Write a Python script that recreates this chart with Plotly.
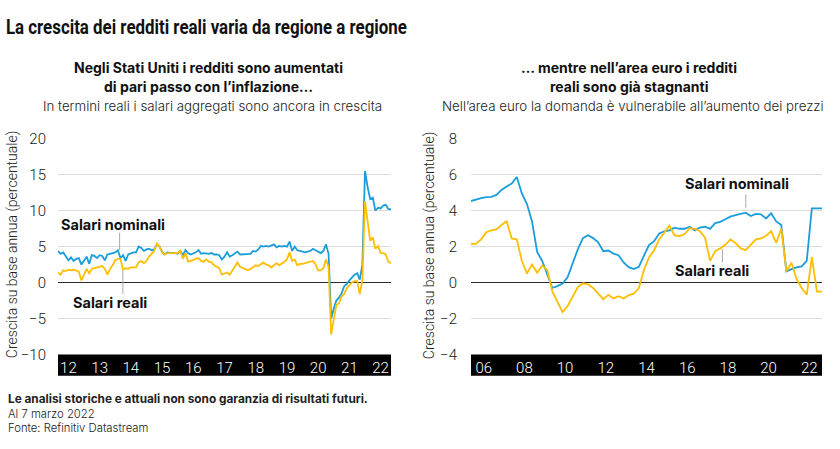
import plotly.graph_objects as go

# ---------------- DATA ----------------
us_start = 2011 + 8 / 12          # first monthly observation (decimal year)
us_nominal = [4.4, 4.0, 4.2, 3.7, 3.1, 3.5, 3.0, 3.3, 3.4, 2.5, 3.1, 3.6, 2.6, 3.8, 3.7, 3.4,
              3.8, 3.7, 3.1, 3.9, 4.0, 4.1, 4.2, 4.5, 3.4, 3.8, 3.0, 3.9, 4.1, 4.2, 4.2, 5.0,
              4.8, 4.4, 4.6, 4.7, 4.5, 4.6, 5.3, 5.0, 4.3, 3.9, 4.2, 4.1, 4.1, 4.1, 4.0, 4.4,
              3.8, 4.5, 4.1, 3.9, 4.0, 4.2, 4.5, 4.0, 4.1, 4.0, 4.0, 4.1, 3.9, 3.9, 3.8, 3.2,
              3.6, 4.2, 3.6, 3.8, 4.0, 4.3, 3.9, 3.9, 3.9, 4.0, 4.0, 4.4, 4.3, 4.6, 5.1, 5.0,
              5.1, 5.0, 5.1, 5.3, 4.9, 5.1, 5.0, 5.1, 5.0, 5.7, 4.4, 5.0, 4.5, 4.4, 4.2, 4.2,
              4.3, 4.4, 4.7, 4.5, 4.2, 4.1, 4.4, 5.3, 4.0, -5.0, -3.6, -2.5, -2.1, -1.5, -0.5, -0.2,
              0.3, 0.7, 1.1, 1.3, 0.4, 2.5, 15.5, 13.3, 11.6, 11.8, 10.0, 10.4, 10.3, 10.7, 10.8, 10.2,
              10.2]
us_real = [1.4, 1.1, 1.7, 1.6, 1.8, 1.7, 1.8, 1.6, 1.5, 0.3, 1.0, 1.9, 1.3, 1.9, 2.0, 2.1,
           2.1, 2.3, 1.9, 1.1, 1.9, 2.4, 3.1, 3.3, 3.3, 1.8, 2.0, 1.9, 2.1, 2.1, 2.1, 2.8,
           3.0, 2.7, 3.0, 3.6, 4.0, 4.4, 5.4, 5.0, 4.2, 3.9, 4.1, 4.1, 4.0, 4.0, 4.1, 4.4,
           3.3, 4.1, 2.9, 3.0, 3.2, 3.3, 3.4, 3.0, 2.9, 3.2, 2.9, 2.8, 2.4, 2.2, 2.0, 1.1,
           1.3, 1.4, 1.1, 1.7, 2.2, 2.8, 2.2, 2.0, 1.8, 1.7, 1.9, 2.1, 2.4, 2.3, 2.5, 2.8,
           2.5, 2.4, 2.1, 2.4, 2.7, 2.4, 2.6, 2.9, 3.2, 4.2, 3.0, 3.2, 2.4, 2.6, 2.6, 2.7,
           2.7, 2.8, 3.0, 2.5, 1.7, 1.7, 2.0, 3.2, 2.2, -7.2, -4.9, -3.1, -2.9, -1.9, -1.6, -0.8,
           -0.4, 0.0, 0.2, 0.2, -1.6, 0.3, 11.3, 8.4, 5.8, 6.3, 4.7, 5.1, 4.1, 4.1, 3.9, 2.9,
           2.7]

ea_start = 2005.375               # first quarterly observation (decimal year)
ea_nominal = [4.53, 4.63, 4.69, 4.75, 4.76, 4.87, 5.15, 5.34, 5.5, 5.87, 4.95, 4.36, 3.4, 1.7,
              1.2, 0.45, -0.3, -0.2, -0.06, 0.3, 1.05, 1.85, 2.47, 2.63, 2.47, 2.24, 1.74, 1.78,
              1.61, 1.52, 1.12, 0.86, 0.75, 0.87, 1.5, 2.08, 2.3, 2.73, 2.85, 2.9, 3.05, 2.99,
              2.99, 3.1, 2.9, 3.06, 3.1, 2.98, 3.3, 3.37, 3.52, 3.66, 3.75, 3.8, 3.88, 3.7,
              3.82, 3.79, 3.56, 3.85, 3.4, 3.2, 0.62, 0.75, 0.85, 0.9, 1.2, 4.12, 4.12, 4.12]
ea_real = [2.13, 2.16, 2.4, 2.8, 2.9, 2.95, 3.2, 3.41, 2.45, 2.4, 1.2, 0.5, 1.0, 0.55,
           0.95, 0.7, -0.5, -1.1, -1.64, -1.3, -0.8, -0.25, -0.04, -0.1, -0.3, -0.64, -0.92, -0.68,
           -0.88, -0.76, -0.88, -0.7, -0.62, -0.3, 0.7, 1.4, 1.8, 2.4, 2.78, 3.16, 2.62, 2.58,
           2.7, 3.02, 2.99, 2.85, 2.5, 1.21, 1.75, 1.9, 2.1, 2.4, 2.2, 1.9, 1.8, 2.1,
           2.4, 2.45, 2.6, 2.85, 2.2, 3.0, 0.62, 1.1, 0.2, -0.3, -0.68, 1.42, -0.5, -0.5]

us_tickvals = list(range(2012, 2023))
us_ticktext = ["12", "13", "14", "15", "16", "17", "18", "19", "20", "21", "22"]
ea_tickvals = list(range(2006, 2023, 2))
ea_ticktext = ["06", "08", "10", "12", "14", "16", "18", "20", "22"]
us_yticks = [-10, -5, 0, 5, 10, 15, 20]
ea_yticks = [-4, -2, 0, 2, 4, 6, 8]

us_x = [us_start + i / 12 for i in range(len(us_nominal))]
ea_x = [ea_start + 0.25 * i for i in range(len(ea_nominal))]

# ---------------- STYLE ----------------
W, H = 840, 449
BLUE = "#1a9ddb"
YELLOW = "#ffbe00"
LIGHT = "Roboto"
SANS = "Inter"
TXT = "#1a1a1a"


def fx(p):
    return p / W


def fy(p):
    return 1 - p / H


fig = go.Figure()
fig.add_trace(go.Scatter(x=us_x, y=us_nominal, mode="lines", line=dict(color=BLUE, width=1.8),
                         xaxis="x", yaxis="y", hoverinfo="skip"))
fig.add_trace(go.Scatter(x=us_x, y=us_real, mode="lines", line=dict(color=YELLOW, width=1.8),
                         xaxis="x", yaxis="y", hoverinfo="skip"))
fig.add_trace(go.Scatter(x=ea_x, y=ea_nominal, mode="lines", line=dict(color=BLUE, width=1.8),
                         xaxis="x2", yaxis="y2", hoverinfo="skip"))
fig.add_trace(go.Scatter(x=ea_x, y=ea_real, mode="lines", line=dict(color=YELLOW, width=1.8),
                         xaxis="x2", yaxis="y2", hoverinfo="skip"))

xcommon = dict(showgrid=False, zeroline=False, showline=False, ticks="",
               tickfont=dict(family=LIGHT, size=15, color="white", weight=300),
               ticklabelstandoff=2)
ycommon = dict(showgrid=True, gridcolor="#dcdcdc", gridwidth=1.2, zeroline=True,
               zerolinecolor="#2b2b2b", zerolinewidth=1.2, showline=False, ticks="",
               tickfont=dict(family=LIGHT, size=15, color=TXT, weight=300))

fig.update_layout(
    width=W, height=H, margin=dict(l=0, r=0, t=0, b=0),
    paper_bgcolor="white", plot_bgcolor="white", showlegend=False,
    xaxis=dict(domain=[fx(58), fx(391)], range=[us_x[0], us_x[-1]], anchor="y",
               tickmode="array", tickvals=us_tickvals, ticktext=us_ticktext, **xcommon),
    yaxis=dict(domain=[fy(360), fy(135)], range=[-10, 20], anchor="x", ticklabelstandoff=11,
               tickmode="array", tickvals=us_yticks, **ycommon),
    xaxis2=dict(domain=[fx(471), fx(822)], range=[ea_x[0], ea_x[-1]], anchor="y2",
                tickmode="array", tickvals=ea_tickvals, ticktext=ea_ticktext, **xcommon),
    yaxis2=dict(domain=[fy(360), fy(135)], range=[-4, 8], anchor="x2", ticklabelstandoff=13,
                tickmode="array", tickvals=ea_yticks, **ycommon),
)

# black bands behind the x tick labels
for xr in ("x domain", "x2 domain"):
    fig.add_shape(type="rect", xref=xr, yref="paper", x0=0, x1=1, y0=fy(382), y1=fy(360),
                  fillcolor="black", line=dict(width=0), layer="below")

TITLE = "La crescita dei redditi reali varia da regione a regione"
ann = []
# main title (condensed to the reference width by the post script below)
ann.append(dict(text=TITLE, x=fx(206.5), y=fy(19), xanchor="center", yanchor="middle",
                font=dict(family="Roboto", size=21, color="#111", weight=700)))
# panel titles
for cx, l1, l2, sub in [
    (208, "Negli Stati Uniti i redditi sono aumentati", "di pari passo con l’inflazione…",
     "In termini reali i salari aggregati sono ancora in crescita"),
    (629, "… mentre nell’area euro i redditi", "reali sono già stagnanti",
     "Nell’area euro la domanda è vulnerabile all’aumento dei prezzi"),
]:
    ann.append(dict(text=l1, x=fx(cx), y=fy(61), xanchor="center", yanchor="middle",
                    font=dict(family=SANS, size=14, color="#111", weight=700)))
    ann.append(dict(text=l2, x=fx(cx), y=fy(81), xanchor="center", yanchor="middle",
                    font=dict(family=SANS, size=14, color="#111", weight=700)))
    ann.append(dict(text=sub, x=fx(cx + 4), y=fy(101), xanchor="center", yanchor="middle",
                    font=dict(family=SANS, size=13.3, color="#222", weight=300)))

# y-axis titles
for cx in (12, 429):
    ann.append(dict(text="Crescita su base annua (percentuale)", x=fx(cx), y=fy(246),
                    textangle=-90, xanchor="center", yanchor="middle",
                    font=dict(family=LIGHT, size=14, color="#222", weight=300)))

# series labels (data coordinates)
lab_font = dict(family=SANS, size=14.5, color="#111", weight=700)
ann.append(dict(text="Salari nominali", x=2013.42, y=8.0, xref="x", yref="y", showarrow=False,
                xanchor="center", yanchor="middle", font=lab_font))
ann.append(dict(text="Salari reali", x=2013.34, y=-2.8, xref="x", yref="y", showarrow=False,
                xanchor="center", yanchor="middle", font=lab_font))
ann.append(dict(text="Salari nominali", x=2018.44, y=5.49, xref="x2", yref="y2", showarrow=False,
                xanchor="center", yanchor="middle", font=lab_font))
ann.append(dict(text="Salari reali", x=2017.21, y=0.69, xref="x2", yref="y2", showarrow=False,
                xanchor="center", yanchor="middle", font=lab_font))

# footer
ann.append(dict(text="Le analisi storiche e attuali non sono garanzia di risultati futuri.",
                x=fx(6), y=fy(406), xanchor="left", yanchor="middle",
                font=dict(family=SANS, size=11.8, color="#222", weight=700)))
ann.append(dict(text="Al 7 marzo 2022", x=fx(6), y=fy(422), xanchor="left", yanchor="middle",
                font=dict(family=SANS, size=11.3, color="#222", weight=300)))
ann.append(dict(text="Fonte: Refinitiv Datastream", x=fx(6), y=fy(437), xanchor="left",
                yanchor="middle", font=dict(family=SANS, size=11.3, color="#222", weight=300)))

for a in ann:
    a.setdefault("xref", "paper")
    a.setdefault("yref", "paper")
    a.setdefault("showarrow", False)
fig.update_layout(annotations=ann)

# leader lines for the series labels
lead = dict(color="#a8a8a8", width=1)
fig.add_shape(type="line", xref="x", yref="y", x0=2013.64, x1=2013.64, y0=6.9, y1=4.5, line=lead)
fig.add_shape(type="line", xref="x", yref="y", x0=2013.745, x1=2013.745, y0=1.7, y1=-1.6, line=lead)
fig.add_shape(type="line", xref="x2", yref="y2", x0=2018.88, x1=2018.88, y0=4.9, y1=4.16, line=lead)
fig.add_shape(type="line", xref="x2", yref="y2", x0=2017.73, x1=2017.73, y0=1.87, y1=1.12, line=lead)

# page without margins; condense the headline glyphs horizontally
post = """
document.body.style.margin = '0';
var gd = document.getElementById('{plot_id}');
gd.querySelectorAll('text.annotation-text').forEach(function (t) {
  if (t.textContent.indexOf('La crescita') === 0) {
    t.setAttribute('textLength', '401');
    t.setAttribute('lengthAdjust', 'spacingAndGlyphs');
  }
});
"""
fig.write_html("out.html", post_script=post)
